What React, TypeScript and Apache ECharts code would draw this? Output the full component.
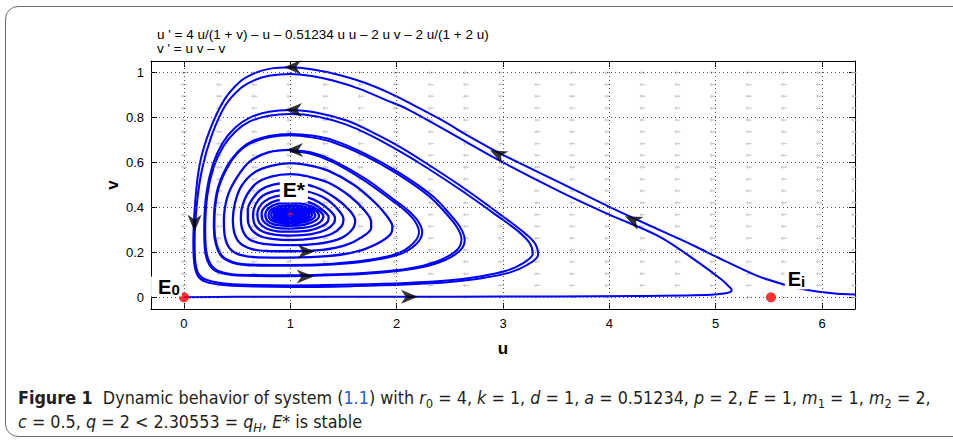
import React, { useEffect, useRef } from "react";
import * as echarts from "echarts";

// ---------- axes ----------
const xTicks = [0, 1, 2, 3, 4, 5, 6];
const yTicks = [0, 0.2, 0.4, 0.6, 0.8, 1];
const xMin = -0.31;
const xMax = 6.31;
const yMin = -0.052;
const yMax = 1.052;

const titleLine1 = "u ' = 4 u/(1 + v) \u2013 u \u2013 0.51234 u u \u2013 2 u v \u2013 2 u/(1 + 2 u)";
const titleLine2 = "v ' = u v \u2013 v";

// ---------- direction-field grid ----------
const quiverU = [0, 0.33, 0.66, 0.99, 1.33, 1.66, 1.99, 2.32, 2.65, 2.98, 3.32, 3.65, 3.98, 4.31, 4.64, 4.97, 5.31, 5.64, 5.97, 6.3];
const quiverV = [0, 0.053, 0.105, 0.158, 0.211, 0.263, 0.316, 0.368, 0.421, 0.474, 0.526, 0.579, 0.632, 0.684, 0.737, 0.789, 0.842, 0.895, 0.947, 1.0];

// ---------- trajectory A (enters from the right edge) ----------
const aHead = [
  [6.31, 0.012], [6.1, 0.018], [5.85, 0.034], [5.66, 0.055], [5.41, 0.092], [5.1, 0.159], [4.78, 0.233],
  [4.47, 0.3], [4.0, 0.403], [3.53, 0.512], [2.97, 0.641], [2.72, 0.706], [2.4, 0.795], [2.1, 0.87],
  [1.93, 0.91], [1.7, 0.955], [1.46, 0.99], [1.2, 1.015], [1.0, 1.024],
];
const aLoop1 = [
  [0.8, 1.017], [0.65, 0.995], [0.526, 0.96], [0.38, 0.88], [0.244, 0.745], [0.15, 0.597], [0.105, 0.42],
  [0.088, 0.24], [0.097, 0.15], [0.13, 0.095], [0.2, 0.07], [0.35, 0.056], [0.6, 0.049], [1.0, 0.046],
  [1.6, 0.05], [2.09, 0.057], [2.5, 0.068], [2.8, 0.085], [3.06, 0.11], [3.23, 0.145], [3.33, 0.19],
  [3.3, 0.24], [3.18, 0.295], [3.0, 0.36], [2.65, 0.48], [2.3, 0.59], [2.03, 0.67], [1.75, 0.74],
  [1.53, 0.787], [1.25, 0.822], [1.0, 0.834],
];
const aLoop2 = [
  [0.8, 0.826], [0.62, 0.8], [0.48, 0.755], [0.36, 0.685], [0.27, 0.59], [0.21, 0.46], [0.19, 0.3],
  [0.2, 0.2], [0.24, 0.143], [0.32, 0.112], [0.5, 0.097], [1.0, 0.094], [1.5, 0.1], [1.9, 0.112],
  [2.2, 0.13], [2.45, 0.165], [2.6, 0.21], [2.64, 0.256], [2.6, 0.31], [2.5, 0.37], [2.34, 0.45],
  [2.03, 0.553], [1.7, 0.64], [1.4, 0.7], [1.2, 0.72], [1.0, 0.727],
];
const aLoop3 = [
  [0.8, 0.718], [0.62, 0.69], [0.5, 0.645], [0.4, 0.58], [0.32, 0.49], [0.285, 0.39], [0.28, 0.31],
  [0.3, 0.235], [0.36, 0.178], [0.5, 0.148], [0.7, 0.141], [1.0, 0.14], [1.4, 0.146], [1.75, 0.163],
  [2.02, 0.19], [2.18, 0.235], [2.24, 0.29], [2.2, 0.34], [2.1, 0.39], [1.96, 0.44], [1.7, 0.53],
  [1.4, 0.61], [1.2, 0.645], [1.0, 0.656],
];

// ---------- trajectory B (leaves E0 along the u axis) ----------
const bHead = [
  [0.0, 0.0], [0.5, 0.002], [1.5, 0.003], [2.5, 0.003], [3.5, 0.004], [4.3, 0.006], [4.8, 0.009],
  [5.02, 0.014], [5.12, 0.021], [5.15, 0.033], [5.12, 0.05], [5.06, 0.077], [4.85, 0.151], [4.47, 0.27],
  [4.0, 0.368], [3.53, 0.472], [2.97, 0.608], [2.5, 0.733], [2.1, 0.838], [1.9, 0.878], [1.65, 0.928],
  [1.4, 0.965], [1.2, 0.985], [1.0, 0.994],
];
const bLoop1 = [
  [0.8, 0.986], [0.66, 0.966], [0.53, 0.93], [0.39, 0.855], [0.26, 0.72], [0.17, 0.57], [0.12, 0.41],
  [0.1, 0.245], [0.108, 0.155], [0.14, 0.102], [0.21, 0.078], [0.36, 0.063], [0.6, 0.056], [1.0, 0.053],
  [1.6, 0.057], [2.09, 0.064], [2.5, 0.076], [2.78, 0.093], [3.03, 0.118], [3.19, 0.152], [3.28, 0.195],
  [3.25, 0.242], [3.14, 0.295], [2.96, 0.358], [2.62, 0.472], [2.28, 0.578], [2.01, 0.655], [1.75, 0.722],
  [1.52, 0.77], [1.25, 0.805], [1.0, 0.816],
];
const bLoop2 = [
  [0.8, 0.808], [0.62, 0.783], [0.49, 0.74], [0.37, 0.672], [0.28, 0.58], [0.22, 0.455], [0.2, 0.3],
  [0.21, 0.205], [0.25, 0.148], [0.33, 0.116], [0.5, 0.101], [1.0, 0.098], [1.5, 0.104], [1.9, 0.116],
  [2.18, 0.134], [2.42, 0.168], [2.57, 0.212], [2.61, 0.258], [2.57, 0.31], [2.47, 0.37], [2.31, 0.448],
  [2.01, 0.548], [1.69, 0.633], [1.4, 0.69], [1.2, 0.712], [1.0, 0.721],
];
const bLoop3 = [
  [0.8, 0.712], [0.62, 0.684], [0.5, 0.64], [0.405, 0.575], [0.327, 0.488], [0.292, 0.39], [0.287, 0.312],
  [0.306, 0.238], [0.365, 0.182], [0.5, 0.152], [0.7, 0.145], [1.0, 0.144], [1.4, 0.15], [1.74, 0.167],
  [2.0, 0.194], [2.15, 0.238], [2.21, 0.29], [2.17, 0.34], [2.07, 0.39], [1.93, 0.44], [1.68, 0.525],
  [1.4, 0.602], [1.2, 0.638], [1.0, 0.65],
];

// ---------- spiral core (both trajectories merge) ----------
const coreLoops = [
  [1.0, 0.656],
  [0.8, 0.646], [0.62, 0.605], [0.5, 0.535], [0.41, 0.45], [0.375, 0.34], [0.385, 0.27], [0.43, 0.218],
  [0.52, 0.19], [0.7, 0.178], [1.0, 0.177], [1.35, 0.183], [1.62, 0.203], [1.82, 0.24], [1.94, 0.28],
  [1.96, 0.315], [1.91, 0.36], [1.8, 0.42], [1.6, 0.5], [1.35, 0.565], [1.15, 0.59], [1.0, 0.597],
  [0.82, 0.585], [0.66, 0.555], [0.54, 0.495], [0.48, 0.42], [0.46, 0.347], [0.475, 0.285], [0.53, 0.24],
  [0.65, 0.213], [0.8, 0.206], [1.0, 0.205], [1.3, 0.211], [1.52, 0.232], [1.68, 0.27], [1.76, 0.31],
  [1.76, 0.335], [1.7, 0.385], [1.56, 0.45], [1.36, 0.51], [1.15, 0.54], [1.0, 0.548],
  [0.82, 0.537], [0.68, 0.507], [0.59, 0.455], [0.545, 0.4], [0.535, 0.355], [0.55, 0.3], [0.61, 0.26],
  [0.75, 0.238], [1.0, 0.232], [1.25, 0.238], [1.45, 0.258], [1.57, 0.295], [1.61, 0.34], [1.56, 0.385],
  [1.43, 0.44], [1.24, 0.49], [1.0, 0.51],
  [0.84, 0.502], [0.72, 0.478], [0.64, 0.435], [0.6, 0.39], [0.6, 0.35], [0.63, 0.305], [0.72, 0.272],
  [0.85, 0.259], [1.0, 0.255], [1.22, 0.262], [1.39, 0.283], [1.48, 0.315], [1.5, 0.348], [1.45, 0.39],
  [1.33, 0.44], [1.17, 0.47], [1.0, 0.48],
  [0.85, 0.473], [0.74, 0.452], [0.675, 0.415], [0.65, 0.37], [0.665, 0.325], [0.74, 0.293], [0.87, 0.278],
  [1.0, 0.275], [1.2, 0.281], [1.34, 0.302], [1.41, 0.33], [1.42, 0.353], [1.37, 0.387], [1.26, 0.425],
  [1.13, 0.449], [1.0, 0.456],
  [0.86, 0.449], [0.76, 0.428], [0.705, 0.398], [0.69, 0.366], [0.71, 0.33], [0.78, 0.305], [0.88, 0.294],
  [1.0, 0.292], [1.17, 0.297], [1.29, 0.315], [1.355, 0.34], [1.36, 0.357], [1.31, 0.386], [1.22, 0.415],
  [1.11, 0.432], [1.0, 0.437],
  [0.87, 0.43], [0.78, 0.41], [0.735, 0.385], [0.73, 0.367], [0.76, 0.332], [0.86, 0.31], [1.0, 0.306],
  [1.15, 0.311], [1.26, 0.328], [1.31, 0.36], [1.26, 0.39], [1.15, 0.413], [1.0, 0.422],
  [0.88, 0.416], [0.8, 0.398], [0.765, 0.368], [0.79, 0.338], [0.88, 0.321], [1.0, 0.318], [1.13, 0.323],
  [1.23, 0.34], [1.27, 0.362], [1.23, 0.388], [1.12, 0.404], [1.0, 0.41],
  [0.89, 0.405], [0.82, 0.39], [0.795, 0.368], [0.815, 0.345], [0.9, 0.331], [1.0, 0.328], [1.11, 0.332],
  [1.2, 0.346], [1.235, 0.364], [1.2, 0.384], [1.1, 0.396], [1.0, 0.4],
  [0.9, 0.396], [0.838, 0.383], [0.82, 0.368], [0.84, 0.35], [0.91, 0.339], [1.0, 0.336], [1.1, 0.34],
  [1.17, 0.351], [1.205, 0.366], [1.17, 0.381], [1.09, 0.39], [1.0, 0.393],
  [0.91, 0.389], [0.857, 0.379], [0.845, 0.368], [0.86, 0.354], [0.92, 0.345], [1.0, 0.343], [1.09, 0.346],
  [1.15, 0.355], [1.178, 0.367], [1.15, 0.379], [1.08, 0.386], [1.0, 0.388],
  [0.92, 0.384], [0.875, 0.376], [0.865, 0.368], [0.88, 0.357], [0.93, 0.351], [1.0, 0.349], [1.08, 0.352],
  [1.13, 0.359], [1.155, 0.368], [1.13, 0.377], [1.07, 0.382], [1.0, 0.384],
  [0.93, 0.381], [0.893, 0.375], [0.885, 0.368], [0.897, 0.36], [0.94, 0.355], [1.0, 0.354], [1.07, 0.356],
  [1.115, 0.362], [1.135, 0.369], [1.115, 0.376], [1.06, 0.38], [1.0, 0.381],
  [0.94, 0.379], [0.907, 0.373], [0.9, 0.368], [0.91, 0.362], [0.95, 0.359], [1.0, 0.358], [1.06, 0.36],
  [1.1, 0.364], [1.115, 0.369], [1.1, 0.375], [1.05, 0.378], [1.0, 0.379],
  [0.95, 0.377], [0.92, 0.372], [0.915, 0.368], [0.925, 0.363], [0.96, 0.361], [1.0, 0.36], [1.05, 0.362],
  [1.085, 0.365], [1.1, 0.369], [1.085, 0.374], [1.04, 0.377], [1.0, 0.377],
  [0.96, 0.375], [0.935, 0.369], [0.96, 0.364], [1.0, 0.362], [1.045, 0.364], [1.075, 0.369], [1.045, 0.374],
  [1.0, 0.375], [0.965, 0.373], [0.95, 0.369], [0.97, 0.365], [1.0, 0.364], [1.04, 0.366], [1.06, 0.37],
  [1.03, 0.373], [1.0, 0.373],
];

// ---------- direction arrows on trajectories ----------
const arrowU = [1.02, 1.03, 1.04, 0.1, 1.14, 1.15, 2.12, 2.95, 4.22];
const arrowV = [1.024, 0.834, 0.656, 0.33, 0.093, 0.204, 0.003, 0.638, 0.345];
const arrowAngle = [180, 180, 180, -90, 0, 0, 0, 153, 155];

// ---------- equilibria ----------
const eqBig = [[0, 0], [5.52, 0]];
const eqStar = [1.0, 0.371];
const labelStar = [1.033, 0.478];
const labelE0 = [-0.165, 0.048];
const labelEi = [5.76, 0.08];

const ARROW = "path://M14,6 L0,0 L4,6 L0,12 Z";
const QUIVER = "path://M0,2 L6,2 L6,0 L10,3 L6,6 L6,4 L0,4 Z";
const FONT = "'Liberation Sans', Arial, Helvetica, sans-serif";

export default function App() {
  const ref = useRef<HTMLDivElement>(null);

  useEffect(() => {
    if (!ref.current) return;
    const chart = echarts.init(ref.current, null, { renderer: "svg" });

    const quiverData: number[][] = [];
    quiverU.forEach((u) => quiverV.forEach((v) => quiverData.push([u, v])));

    const arrowData = arrowU.map((u, i) => ({
      value: [u, arrowV[i]],
      symbolRotate: arrowAngle[i],
    }));

    const axisCommon = {
      type: "value" as const,
      splitLine: { show: false },
      axisLine: { show: true, onZero: false, lineStyle: { color: "#000", width: 1 } },
    };

    const lineStyle = (w: number) => ({ color: "#0000ff", width: w });

    const textBase = {
      fontFamily: FONT,
      fontWeight: "bold",
      color: "#000000",
      opacity: 1,
      textBorderWidth: 0,
      textBorderColor: "transparent",
      textShadowBlur: 0,
    };

    const labelSeries = (value: number[], label: any) => ({
      type: "scatter",
      data: [{ value, itemStyle: { color: "#000", opacity: 1 } }],
      symbolSize: 0,
      z: 8,
      silent: true,
      label: { show: true, position: "inside", ...label },
    });

    const option: any = {
      animation: false,
      backgroundColor: "transparent",
      grid: { left: 151, right: 98, top: 61, bottom: 134, containLabel: false },
      xAxis: [
        {
          ...axisCommon,
          min: xMin,
          max: xMax,
          position: "bottom",
          axisTick: { show: true, inside: true, length: 6, customValues: xTicks, lineStyle: { color: "#000" } },
          axisLabel: { show: true, customValues: xTicks, color: "#000", fontSize: 13, fontFamily: FONT, margin: 8 },
        },
        {
          ...axisCommon,
          min: xMin,
          max: xMax,
          position: "top",
          axisTick: { show: true, inside: true, length: 6, customValues: xTicks, lineStyle: { color: "#000" } },
          axisLabel: { show: false },
        },
      ],
      yAxis: [
        {
          ...axisCommon,
          min: yMin,
          max: yMax,
          position: "left",
          axisTick: { show: true, inside: true, length: 6, customValues: yTicks, lineStyle: { color: "#000" } },
          axisLabel: { show: true, customValues: yTicks, color: "#000", fontSize: 13, fontFamily: FONT, margin: 7 },
        },
        {
          ...axisCommon,
          min: yMin,
          max: yMax,
          position: "right",
          axisTick: { show: true, inside: true, length: 6, customValues: yTicks, lineStyle: { color: "#000" } },
          axisLabel: { show: false },
        },
      ],
      graphic: [
        {
          type: "text",
          left: 157,
          top: 27,
          style: { text: titleLine1 + "\n" + titleLine2, font: "13.5px " + FONT, lineHeight: 14, fill: "#000" },
        },
        {
          type: "text",
          x: 503,
          y: 348,
          style: { text: "u", font: "bold 17px " + FONT, fill: "#000", align: "center", verticalAlign: "middle" },
        },
        {
          type: "text",
          x: 112,
          y: 185,
          rotation: Math.PI / 2,
          style: { text: "v", font: "bold 17px " + FONT, fill: "#000", align: "center", verticalAlign: "middle" },
        },
      ],
      series: [
        {
          type: "line",
          data: [[0, 0]],
          showSymbol: false,
          lineStyle: { opacity: 0 },
          silent: true,
          z: 1,
          markLine: {
            silent: true,
            symbol: ["none", "none"],
            label: { show: false },
            lineStyle: { color: "#555", type: [1, 3], width: 1 },
            data: [...xTicks.map((x) => ({ xAxis: x })), ...yTicks.map((y) => ({ yAxis: y }))],
          },
        },
        {
          type: "scatter",
          data: quiverData,
          symbol: QUIVER,
          symbolSize: [6, 4],
          symbolRotate: 180,
          itemStyle: { color: "#c2c2c2" },
          silent: true,
          z: 1,
        },
        {
          type: "line",
          data: [...aHead, ...aLoop1, ...aLoop2, ...aLoop3],
          showSymbol: false,
          smooth: 0.35,
          lineStyle: lineStyle(2),
          z: 3,
        },
        {
          type: "line",
          data: [...bHead, ...bLoop1, ...bLoop2, ...bLoop3],
          showSymbol: false,
          smooth: 0.35,
          lineStyle: lineStyle(2),
          z: 3,
        },
        {
          type: "line",
          data: coreLoops,
          showSymbol: false,
          smooth: 0.35,
          lineStyle: lineStyle(2.3),
          z: 3,
        },
        {
          type: "scatter",
          data: arrowData,
          symbol: ARROW,
          symbolSize: [17, 14],
          itemStyle: { color: "#000" },
          z: 6,
        },
        {
          type: "scatter",
          data: eqBig,
          symbol: "circle",
          symbolSize: 10,
          itemStyle: { color: "#ff0000" },
          z: 7,
        },
        {
          type: "scatter",
          data: [eqStar],
          symbol: "rect",
          symbolSize: [4, 2],
          itemStyle: { color: "#ff0000" },
          z: 7,
        },
        labelSeries(labelStar, {
          ...textBase,
          formatter: "E*",
          fontSize: 21,
          backgroundColor: "#ffffff",
          padding: [3, 3, 1, 3],
        }),
        labelSeries(labelE0, {
          ...textBase,
          formatter: "{e|E}{s|0}",
          backgroundColor: "#ffffff",
          padding: [0, 2, 0, 7],
          rich: {
            e: { ...textBase, fontSize: 20, lineHeight: 20, verticalAlign: "top" },
            s: { ...textBase, fontSize: 15, lineHeight: 14, padding: [15, 0, 0, 0], verticalAlign: "bottom" },
          },
        }),
        labelSeries(labelEi, {
          ...textBase,
          formatter: "{e|E}{s|i}",
          backgroundColor: "#ffffff",
          padding: [0, 3, 0, 3],
          rich: {
            e: { ...textBase, fontSize: 20, lineHeight: 20, verticalAlign: "top" },
            s: { ...textBase, fontSize: 15, lineHeight: 14, padding: [12, 0, 0, 0], verticalAlign: "bottom" },
          },
        }),
      ],
    };

    chart.setOption(option);
    return () => chart.dispose();
  }, []);

  const sub: React.CSSProperties = { fontSize: "0.72em", verticalAlign: "-0.3em", lineHeight: 0 };

  return (
    <div style={{ position: "fixed", left: 0, top: 0, width: 953, height: 443, overflow: "hidden", background: "#fff" }}>
      <div
        style={{
          position: "absolute",
          left: 5,
          top: 6,
          width: 990,
          height: 431,
          border: "1.5px solid #6e6e6e",
          borderRadius: 13,
          boxSizing: "border-box",
        }}
      />
      <div ref={ref} style={{ position: "absolute", left: 0, top: 0, width: 953, height: 443 }} />
      <div
        style={{
          position: "absolute",
          left: 18,
          top: 386,
          fontFamily: "'Liberation Sans Narrow', 'DejaVu Sans Condensed', 'Liberation Sans', sans-serif",
          fontStretch: "condensed",
          fontSize: 17.8,
          lineHeight: "24px",
          color: "#231f20",
          whiteSpace: "nowrap",
        }}
      >
        <b>Figure 1</b>&nbsp; Dynamic behavior of system (<span style={{ color: "#2b59c3" }}>1.1</span>) with{" "}
        <i>r</i><span style={sub}>0</span> = 4, <i>k</i> = 1, <i>d</i> = 1, <i>a</i> = 0.51234, <i>p</i> = 2,{" "}
        <i>E</i> = 1, <i>m</i><span style={sub}>1</span> = 1, <i>m</i><span style={sub}>2</span> = 2,
        <br />
        <i>c</i> = 0.5, <i>q</i> = 2 &lt; 2.30553 = <i>q</i><span style={sub}><i>H</i></span>, <i>E</i>* is stable
      </div>
    </div>
  );
}
